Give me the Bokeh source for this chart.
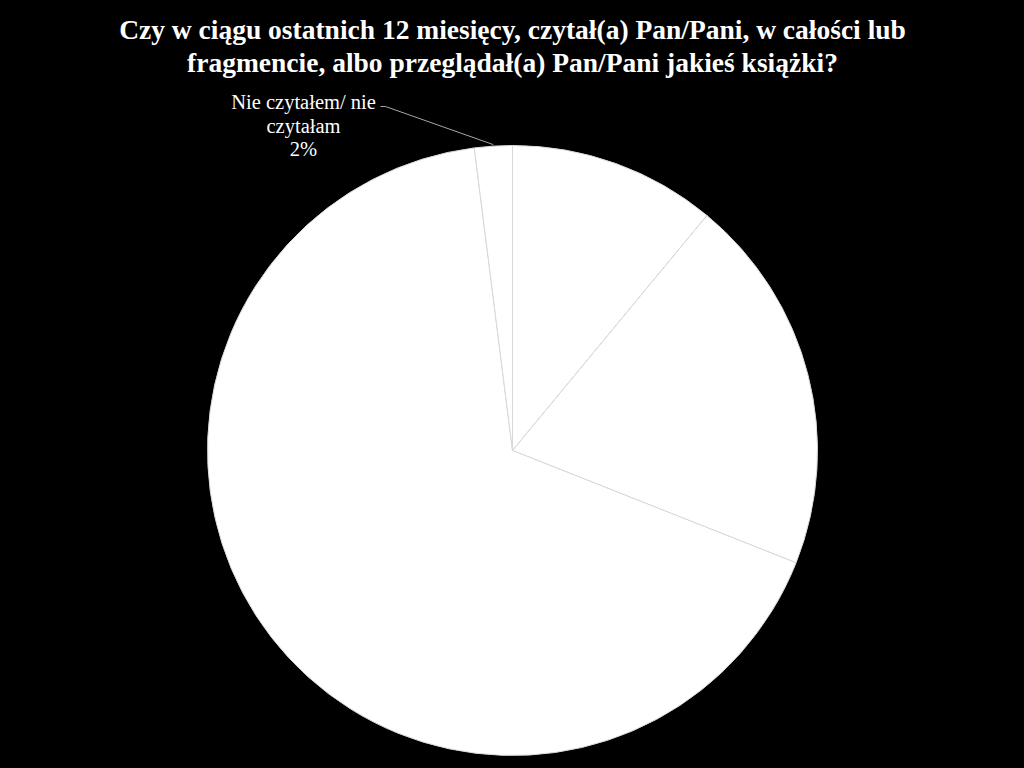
import numpy as np
from bokeh.plotting import figure
from bokeh.embed import file_html
from bokeh.resources import INLINE
from bokeh.core.properties import value
from bokeh.models import ColumnDataSource, Range1d

# Data (clockwise from 12 o'clock)
categories = ["Tak, w całości", "Tak, fragmenty", "Tak, przeglądałem", "Nie czytałem/ nie czytałam"]
shares = [11, 20, 67, 2]
label_lines = ["Nie czytałem/ nie", "czytałam", "2%"]
title_lines = ["Czy w ciągu ostatnich 12 miesięcy, czytał(a) Pan/Pani, w całości lub",
               "fragmencie, albo przeglądał(a) Pan/Pani jakieś książki?"]

W, H = 1024, 768
p = figure(width=W, height=H, output_backend="svg", toolbar_location=None,
           x_range=Range1d(0, W), y_range=Range1d(0, H), min_border=0)
p.axis.visible = False
p.grid.visible = False
p.outline_line_color = None
p.background_fill_color = "black"
p.border_fill_color = "black"

cx, cy, r = 512, 318, 305
frac = np.array(shares, dtype=float) / sum(shares)
cum = np.concatenate([[0], np.cumsum(frac)])
start = np.pi / 2 - 2 * np.pi * cum[:-1]
end = np.pi / 2 - 2 * np.pi * cum[1:]
src = ColumnDataSource(dict(cat=categories, start=start, end=end))
p.wedge(x=cx, y=cy, radius=r, start_angle="start", end_angle="end", direction="clock",
        source=src, fill_color="white", line_color="#d9d9d9", line_width=1)

# Title
p.text(x=[512, 512], y=[739, 706], text=title_lines, text_align="center", text_baseline="middle",
       text_font=value("Liberation Serif"), text_font_style="bold", text_font_size="27.5px",
       text_color="white")

# Data label for small slice
p.text(x=[303, 303, 303], y=[667, 643, 620], text=label_lines, text_align="center",
       text_baseline="middle", text_font=value("Liberation Serif"), text_font_size="20.5px",
       text_color="white")

mid = (start[3] + end[3]) / 2
ex, ey = cx + r * 1.005 * np.cos(mid), cy + r * 1.005 * np.sin(mid)
p.line(x=[380, 385, ex], y=[662, 662, ey], line_color="#a6a6a6", line_width=1)

html = file_html(p, INLINE)
html = html.replace("<body>", '<body style="background-color:black;margin:0;overflow:hidden;">')
open("out.html", "w").write(html)
